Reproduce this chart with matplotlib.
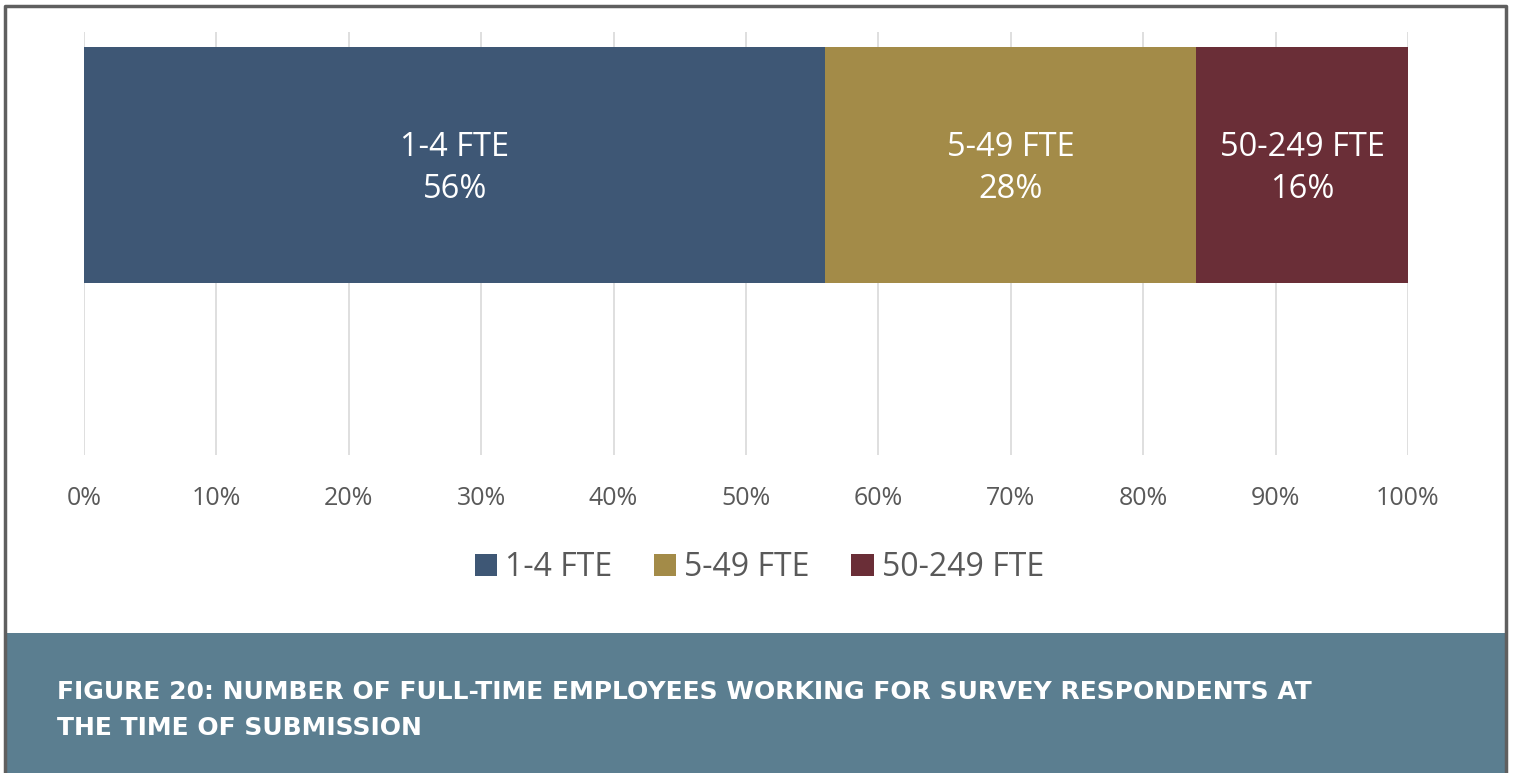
import matplotlib.pyplot as plt
from matplotlib.patches import Rectangle

# employee size bands and their share of respondents
categories = ['1-4 FTE', '5-49 FTE', '50-249 FTE']
shares = [56, 28, 16]
colors = ['#3e5775', '#a38b48', '#6a2e37']
ticks = [0, 10, 20, 30, 40, 50, 60, 70, 80, 90, 100]
caption = ('FIGURE 20: NUMBER OF FULL-TIME EMPLOYEES WORKING FOR SURVEY RESPONDENTS AT\n'
           'THE TIME OF SUBMISSION')

W, H = 1513, 773
fig = plt.figure(figsize=(W / 100, H / 100), dpi=100)
fig.patch.set_facecolor('white')

# frame and caption band
fig.patches.append(Rectangle((7 / W, 0), 1498 / W, (H - 633) / H,
                             transform=fig.transFigure, facecolor='#5b7e90',
                             edgecolor='none', zorder=0))
fig.add_artist(plt.Line2D([5 / W, 5 / W, 1506 / W, 1506 / W],
                          [0, 1 - 6 / H, 1 - 6 / H, 0],
                          transform=fig.transFigure, color='#5f5f5f', lw=2.5))
fig.text(57 / W, (H - 710) / H, caption, color='white', fontsize=18,
         fontweight='bold', family='DejaVu Sans', va='center', ha='left',
         linespacing=1.62)

ax = fig.add_axes([84 / W, (H - 455) / H, 1324 / W, 423 / H])
ax.set_xlim(0, 100)
ax.set_ylim(0, 1)

left = 0
for name, val, c in zip(categories, shares, colors):
    ax.barh(0.6856, val, left=left, height=0.558, color=c, label=name, zorder=2)
    ax.text(left + val / 2, 0.6776, f'{name}\n{val}%', color='white',
            fontsize=23.5, family='Open Sans', ha='center', va='center',
            linespacing=1.38, zorder=3)
    left += val

ax.set_xticks(ticks)
ax.set_xticklabels([f'{t}%' for t in ticks], color='#595959', fontsize=18,
                   family='Open Sans')
ax.tick_params(axis='x', length=0, pad=22)
ax.set_yticks([])
ax.grid(axis='x', color='#d9d9d9', lw=1.2, zorder=1)
for s in ax.spines.values():
    s.set_visible(False)

leg = ax.legend(loc='upper center', bbox_to_anchor=(0.51, -0.159), ncol=3,
                frameon=False, handlelength=0.7, handleheight=0.7,
                handletextpad=0.25, columnspacing=1.3,
                prop={'family': 'Open Sans', 'size': 23})
for t in leg.get_texts():
    t.set_color('#595959')

fig.savefig('out.png', dpi=100)
